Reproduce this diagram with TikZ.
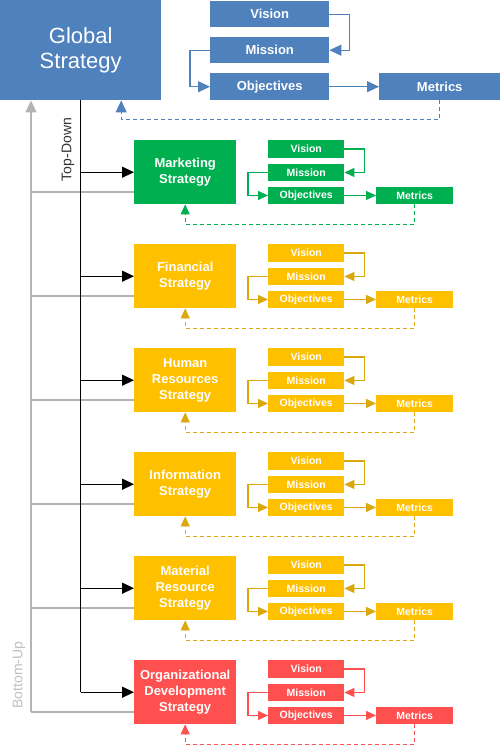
\documentclass[tikz,border=0pt]{standalone}
\usepackage{fontspec}
\setmainfont{Liberation Sans}
\usetikzlibrary{arrows.meta}
\definecolor{gblue}{HTML}{4F81BD}
\definecolor{ggreen}{HTML}{00B050}
\definecolor{gyellow}{HTML}{FFC000}
\definecolor{gyline}{HTML}{DCA70A}
\definecolor{gred}{HTML}{FF5050}
\definecolor{ggrey}{HTML}{B4B4B4}
\definecolor{gtext}{HTML}{C0C0C0}
\begin{document}
\begin{tikzpicture}[x=1pt,y=-1pt,
  boxbase/.style={draw=none, inner sep=0pt, text=white, align=center, anchor=north west},
  globbox/.style={boxbase, fill=gblue, minimum width=161pt, minimum height=100pt, font=\fontsize{22}{25}\selectfont},
  topbox/.style={boxbase, fill=gblue, minimum height=26pt, font=\bfseries\fontsize{13}{15}\selectfont},
  bigbox/.style={boxbase, minimum width=102pt, minimum height=64pt, font=\bfseries\fontsize{13}{16}\selectfont},
  smbox/.style={boxbase, minimum height=17.5pt, font=\bfseries\fontsize{10.5}{12}\selectfont},
  conn/.style={line width=1.2pt, draw=#1, -{Triangle[length=10pt,width=9pt,fill=#1]}},
  topconn/.style={line width=1.2pt, draw=#1, -{Triangle[length=12pt,width=11pt,fill=#1]}},
  dashconn/.style={conn=#1, dash pattern=on 4pt off 3pt},
  blkarrow/.style={line width=1.2pt, draw=black, -{Triangle[length=12pt,width=11pt]}},
  greyline/.style={line width=1.5pt, draw=ggrey},
  lbl/.style={font=\fontsize{14}{16}\selectfont, rotate=90, inner sep=0pt}
]
\useasboundingbox (0,0) rectangle (500,745);

% ---- top (global) section ----
\node[globbox] (glob) at (0,0) {Global\\Strategy};
\node[topbox, minimum width=119pt] (vis) at (210,1) {Vision};
\node[topbox, minimum width=119pt] (mis) at (210,37) {Mission};
\node[topbox, minimum width=119pt, minimum height=27pt] (obj) at (210,73) {Objectives};
\node[topbox, minimum width=121pt, minimum height=27pt] (met) at (379,73) {Metrics};

\draw[topconn=gblue] (vis.east) -- ++(20,0) |- (mis.east);
\draw[topconn=gblue] (mis.west) -- ++(-20,0) |- (obj.west);
\draw[topconn=gblue] (obj.east) -- (met.west);
\draw[topconn=gblue, dash pattern=on 4pt off 3pt] (met.south) -- ++(0,19) -| ([xshift=40.5pt]glob.south);

% ---- strategy sections ----
\foreach \k/\txt/\fc/\lc in {
  0/{Marketing\\Strategy}/ggreen/ggreen,
  1/{Financial\\Strategy}/gyellow/gyline,
  2/{Human\\Resources\\Strategy}/gyellow/gyline,
  3/{Information\\Strategy}/gyellow/gyline,
  4/{Material\\Resource\\Strategy}/gyellow/gyline,
  5/{Organizational\\Development\\Strategy}/gred/gred}{
  \pgfmathsetmacro{\T}{140+104*\k}
  \node[bigbox, fill=\fc] (box\k) at (134,\T) {\txt};
  \node[smbox, fill=\fc, minimum width=76pt] (vis\k) at (268,\T) {Vision};
  \node[smbox, fill=\fc, minimum width=76pt] (mis\k) at (268,\T+23.5) {Mission};
  \node[smbox, fill=\fc, minimum width=76pt] (obj\k) at (268,\T+46.5) {Objectives};
  \node[smbox, fill=\fc, minimum width=77pt] (met\k) at (376,\T+46.5) {Metrics};
  \draw[conn=\lc] (vis\k.east) -- ++(20,0) |- (mis\k.east);
  \draw[conn=\lc] (mis\k.west) -- ++(-20,0) |- (obj\k.west);
  \draw[conn=\lc] (obj\k.east) -- (met\k.west);
  \draw[dashconn=\lc] (met\k.south) -- ++(0,20) -| (box\k.south);
  \coordinate (g\k) at (31,\T+52);
  \draw[greyline] (g\k) -- (box\k.west |- g\k);
}

% ---- top-down (black) ----
\draw[line width=1.2pt] (glob.south) -- (glob.south |- box5.west);
\foreach \k in {0,...,5}{
  \draw[blkarrow] (glob.south |- box\k.west) -- (box\k.west);
}

% ---- bottom-up (grey) ----
\draw[greyline, -{Triangle[length=12pt,width=11pt,fill=ggrey]}] (g5) -- (glob.south -| g5);

\node[lbl, text=black!80] (td) at (68,149.5) {Top-Down};
\node[lbl, text=gtext] (bu) at (19,675) {Bottom-Up};
\end{tikzpicture}
\end{document}
